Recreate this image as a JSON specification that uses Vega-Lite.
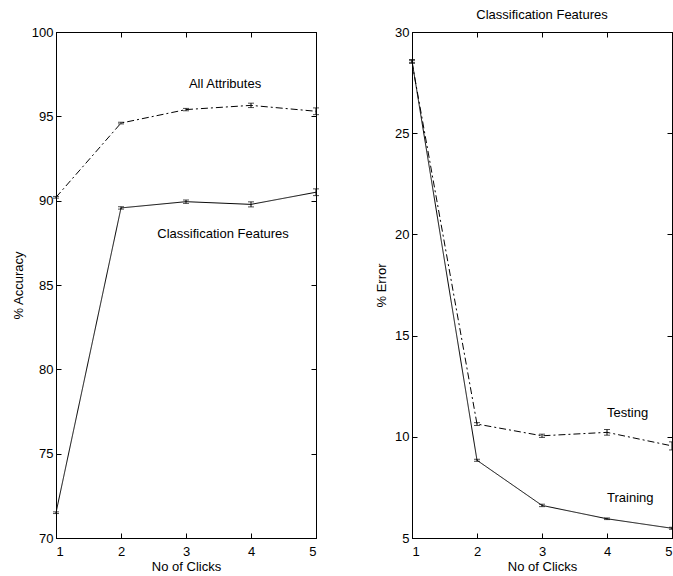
{
  "$schema": "https://vega.github.io/schema/vega-lite/v6.json",
  "background": "white",
  "padding": {"left": 11, "top": 8, "right": 0, "bottom": 0},
  "bounds": "flush",
  "spacing": 96,
  "config": {
    "font": "Liberation Sans",
    "view": {"stroke": "black", "strokeWidth": 1},
    "axis": {"grid": false, "domainColor": "black", "tickColor": "black", "labelColor": "black", "titleColor": "black", "labelFont": "Liberation Sans", "titleFont": "Liberation Sans", "labelFontSize": 13, "titleFontSize": 13, "titleFontWeight": "normal", "tickSize": -5, "labelPadding": 8},
    "axisX": {"labelPadding": 12},
    "title": {"font": "Liberation Sans", "fontSize": 13, "fontWeight": "normal", "color": "black"}
  },
  "datasets": {
    "acc": [
      {"clicks": 1, "series": "All Attributes", "value": 90.2, "lo": 90.15, "hi": 90.25},
      {"clicks": 2, "series": "All Attributes", "value": 94.6, "lo": 94.55, "hi": 94.65},
      {"clicks": 3, "series": "All Attributes", "value": 95.4, "lo": 95.33, "hi": 95.47},
      {"clicks": 4, "series": "All Attributes", "value": 95.65, "lo": 95.52, "hi": 95.78},
      {"clicks": 5, "series": "All Attributes", "value": 95.3, "lo": 95.1, "hi": 95.5},
      {"clicks": 1, "series": "Classification Features", "value": 71.5, "lo": 71.45, "hi": 71.55},
      {"clicks": 2, "series": "Classification Features", "value": 89.57, "lo": 89.5, "hi": 89.64},
      {"clicks": 3, "series": "Classification Features", "value": 89.94, "lo": 89.84, "hi": 90.04},
      {"clicks": 4, "series": "Classification Features", "value": 89.78, "lo": 89.63, "hi": 89.93},
      {"clicks": 5, "series": "Classification Features", "value": 90.5, "lo": 90.3, "hi": 90.7}
    ],
    "accLabels": [
      {"clicks": 3.6, "value": 96.9, "text": "All Attributes"},
      {"clicks": 3.57, "value": 88.0, "text": "Classification Features"}
    ],
    "err": [
      {"clicks": 1, "series": "Testing", "value": 28.5, "lo": 28.45, "hi": 28.6},
      {"clicks": 2, "series": "Testing", "value": 10.63, "lo": 10.56, "hi": 10.7},
      {"clicks": 3, "series": "Testing", "value": 10.05, "lo": 9.97, "hi": 10.13},
      {"clicks": 4, "series": "Testing", "value": 10.22, "lo": 10.08, "hi": 10.36},
      {"clicks": 5, "series": "Testing", "value": 9.55, "lo": 9.35, "hi": 9.75},
      {"clicks": 1, "series": "Training", "value": 28.57, "lo": 28.5, "hi": 28.64},
      {"clicks": 2, "series": "Training", "value": 8.84, "lo": 8.79, "hi": 8.89},
      {"clicks": 3, "series": "Training", "value": 6.61, "lo": 6.55, "hi": 6.67},
      {"clicks": 4, "series": "Training", "value": 5.95, "lo": 5.91, "hi": 5.99},
      {"clicks": 5, "series": "Training", "value": 5.48, "lo": 5.43, "hi": 5.53}
    ],
    "errLabels": [
      {"clicks": 4.0, "value": 11.18, "text": "Testing"},
      {"clicks": 4.0, "value": 6.98, "text": "Training"}
    ]
  },
  "hconcat": [
    {
      "width": 260,
      "height": 506,
      "resolve": {"axis": {"x": "independent", "y": "independent"}},
      "layer": [
        {
          "data": {"name": "acc"},
          "mark": {"type": "line", "color": "black", "strokeWidth": 1, "clip": true},
          "encoding": {
            "x": {"field": "clicks", "type": "quantitative", "scale": {"domain": [1, 5], "nice": false}, "axis": {"values": [1, 2, 3, 4, 5], "title": "No of Clicks", "titlePadding": 2}},
            "y": {"field": "value", "type": "quantitative", "scale": {"domain": [70, 100], "nice": false, "zero": false}, "axis": {"values": [70, 75, 80, 85, 90, 95, 100], "title": "% Accuracy", "titlePadding": 6}},
            "strokeDash": {"field": "series", "type": "nominal", "scale": {"domain": ["Classification Features", "All Attributes"], "range": [[1, 0], [7, 3, 2, 3]]}, "legend": null}
          }
        },
        {
          "data": {"name": "acc"},
          "mark": {"type": "errorbar", "color": "black", "ticks": {"size": 6, "color": "black"}, "thickness": 1},
          "encoding": {
            "x": {"field": "clicks", "type": "quantitative", "axis": null},
            "y": {"field": "lo", "type": "quantitative", "axis": null},
            "y2": {"field": "hi"}
          }
        },
        {
          "data": {"name": "accLabels"},
          "mark": {"type": "text", "fontSize": 13, "color": "black", "font": "Liberation Sans"},
          "encoding": {
            "x": {"field": "clicks", "type": "quantitative", "axis": null},
            "y": {"field": "value", "type": "quantitative", "axis": null},
            "text": {"field": "text"}
          }
        },
        {
          "data": {"name": "acc"},
          "mark": {"type": "point", "opacity": 0},
          "encoding": {
            "x": {"field": "clicks", "type": "quantitative", "axis": {"orient": "top", "values": [1, 2, 3, 4, 5], "labels": false, "title": null}},
            "y": {"field": "value", "type": "quantitative", "axis": {"orient": "right", "values": [70, 75, 80, 85, 90, 95, 100], "labels": false, "title": null}}
          }
        }
      ]
    },
    {
      "width": 260,
      "height": 506,
      "title": {"text": "Classification Features", "offset": 4},
      "resolve": {"axis": {"x": "independent", "y": "independent"}},
      "layer": [
        {
          "data": {"name": "err"},
          "mark": {"type": "line", "color": "black", "strokeWidth": 1, "clip": true},
          "encoding": {
            "x": {"field": "clicks", "type": "quantitative", "scale": {"domain": [1, 5], "nice": false}, "axis": {"values": [1, 2, 3, 4, 5], "title": "No of Clicks", "titlePadding": 2}},
            "y": {"field": "value", "type": "quantitative", "scale": {"domain": [5, 30], "nice": false, "zero": false}, "axis": {"values": [5, 10, 15, 20, 25, 30], "title": "% Error", "titlePadding": 6}},
            "strokeDash": {"field": "series", "type": "nominal", "scale": {"domain": ["Training", "Testing"], "range": [[1, 0], [7, 3, 2, 3]]}, "legend": null}
          }
        },
        {
          "data": {"name": "err"},
          "mark": {"type": "errorbar", "color": "black", "ticks": {"size": 6, "color": "black"}, "thickness": 1},
          "encoding": {
            "x": {"field": "clicks", "type": "quantitative", "axis": null},
            "y": {"field": "lo", "type": "quantitative", "axis": null},
            "y2": {"field": "hi"}
          }
        },
        {
          "data": {"name": "errLabels"},
          "mark": {"type": "text", "fontSize": 13, "color": "black", "align": "left", "font": "Liberation Sans"},
          "encoding": {
            "x": {"field": "clicks", "type": "quantitative", "axis": null},
            "y": {"field": "value", "type": "quantitative", "axis": null},
            "text": {"field": "text"}
          }
        },
        {
          "data": {"name": "err"},
          "mark": {"type": "point", "opacity": 0},
          "encoding": {
            "x": {"field": "clicks", "type": "quantitative", "axis": {"orient": "top", "values": [1, 2, 3, 4, 5], "labels": false, "title": null}},
            "y": {"field": "value", "type": "quantitative", "axis": {"orient": "right", "values": [5, 10, 15, 20, 25, 30], "labels": false, "title": null}}
          }
        }
      ]
    }
  ]
}
